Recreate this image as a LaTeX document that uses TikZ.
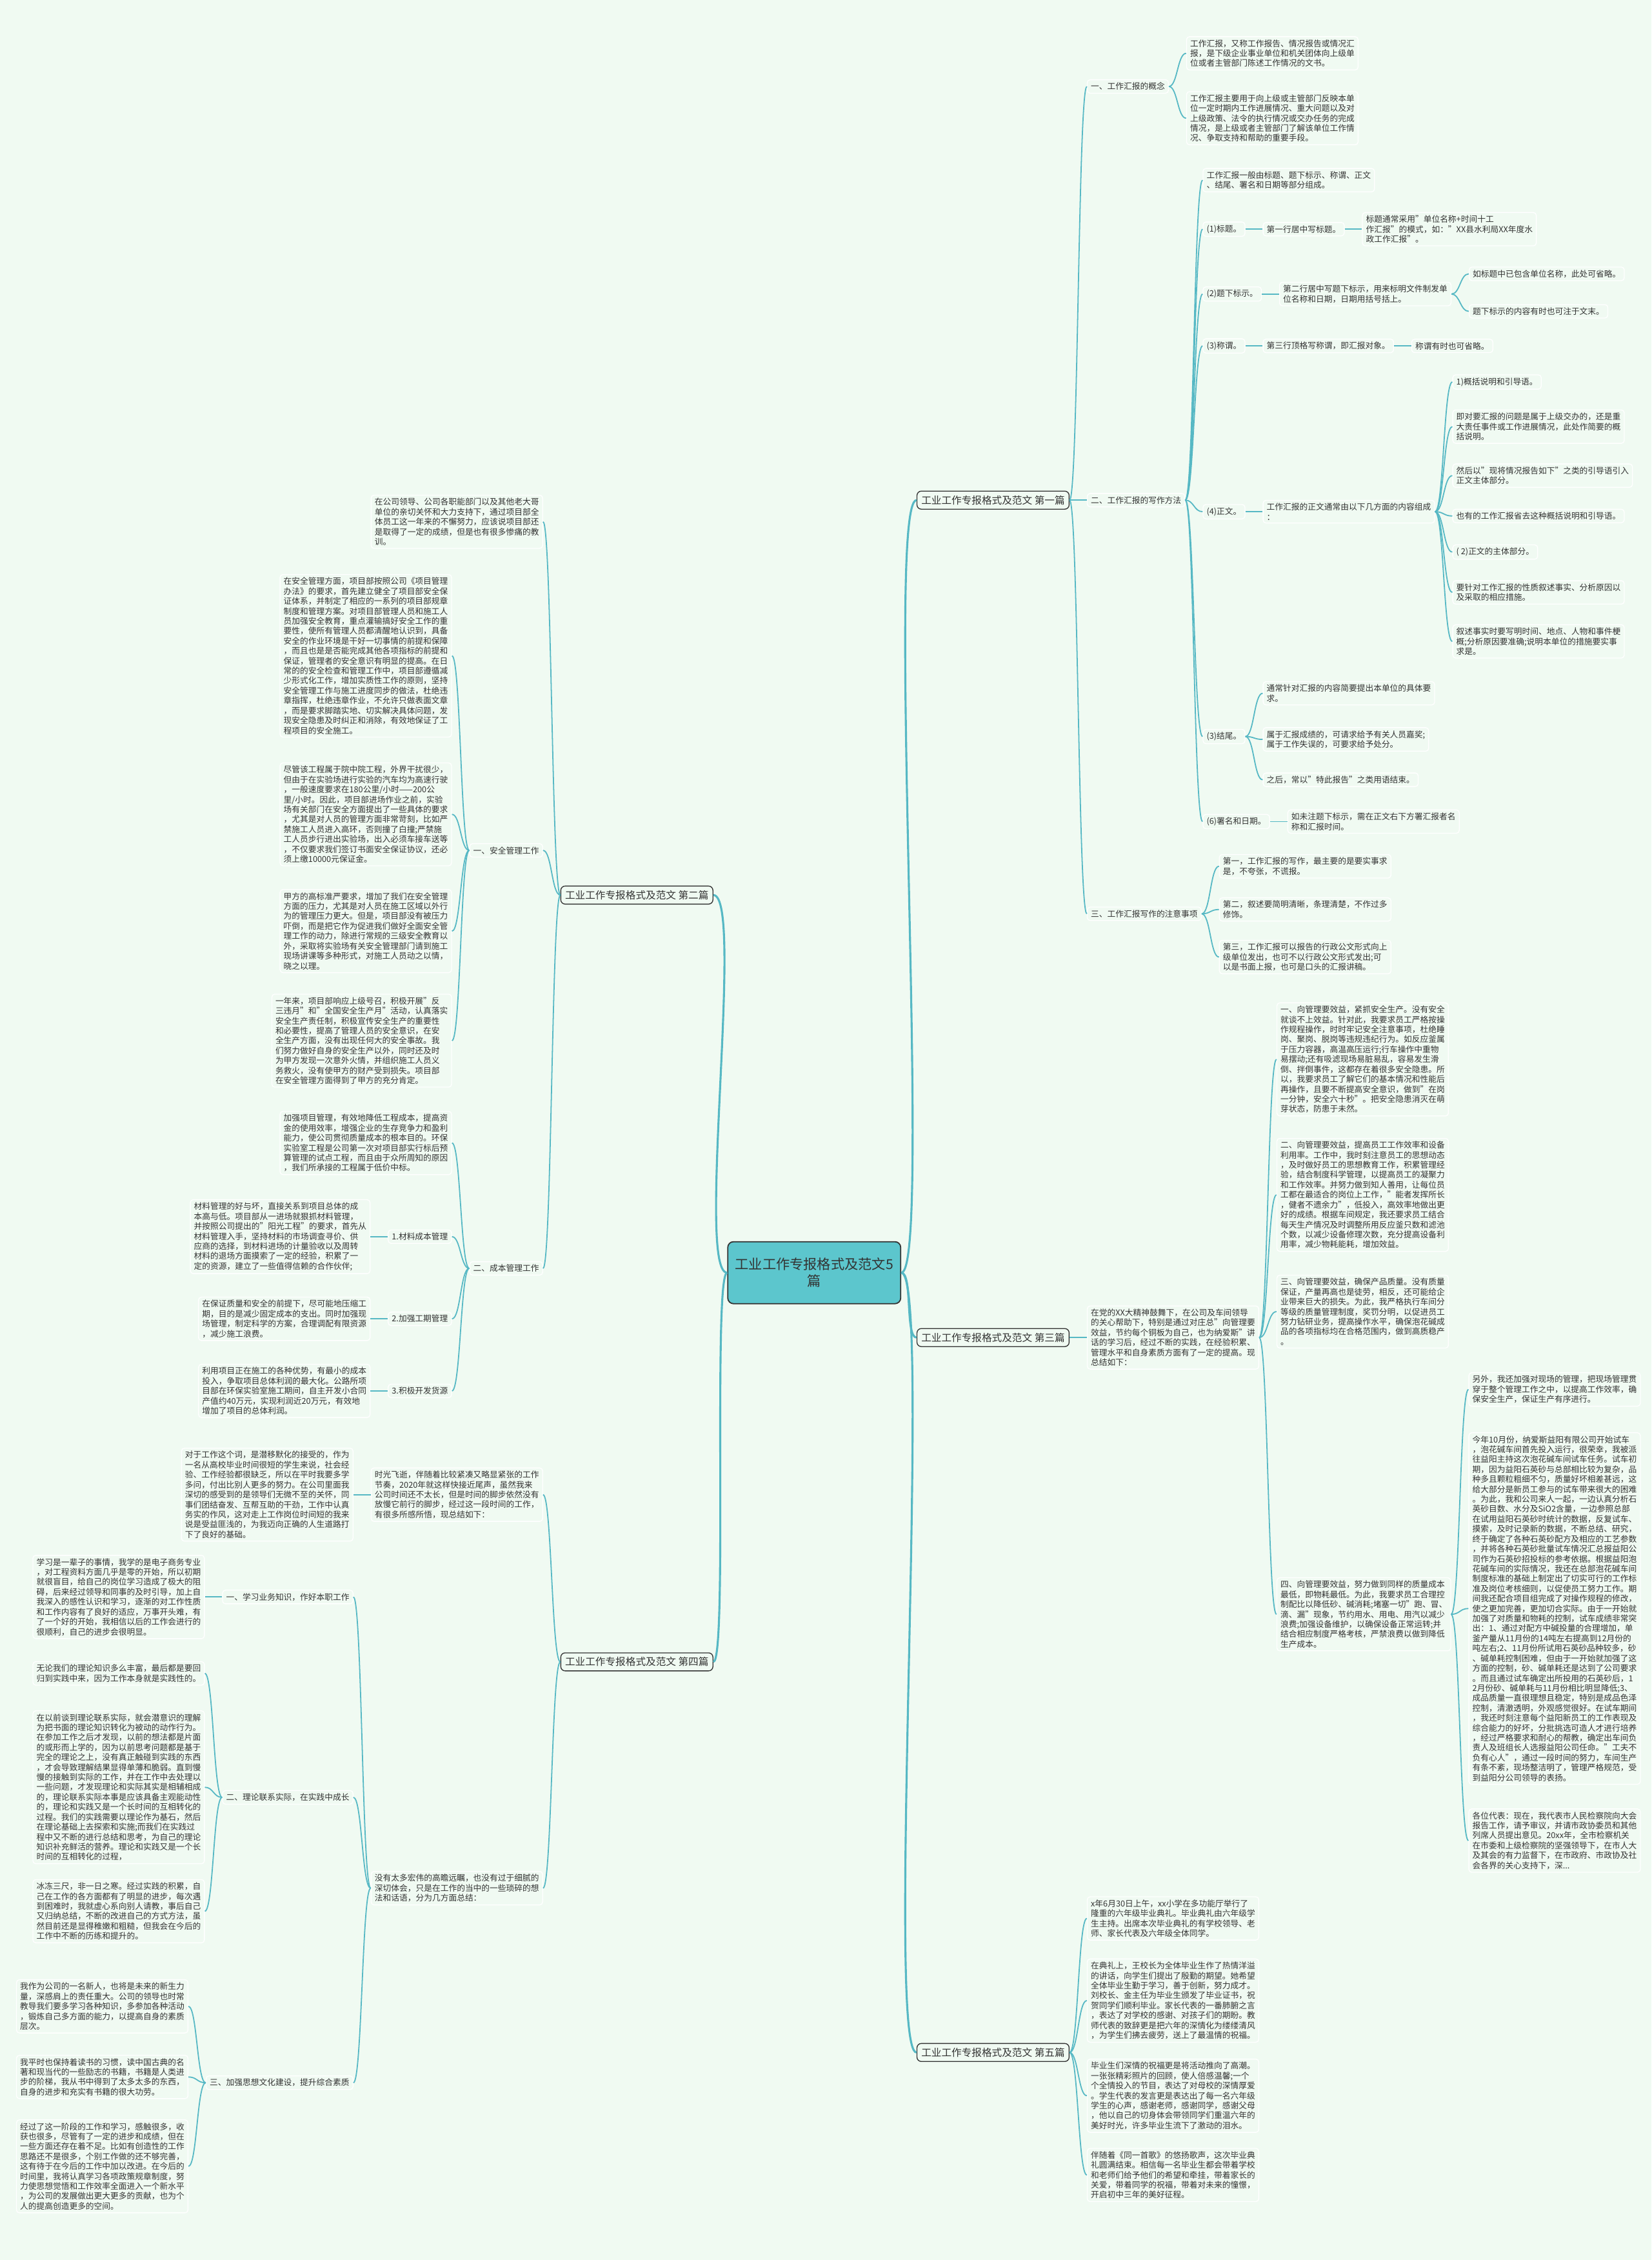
\documentclass[tikz,border=0pt]{standalone}
\usepackage{fontspec}
\setmainfont{Noto Sans CJK SC}
\usepackage{tikz}
\usetikzlibrary{positioning}
\definecolor{pagebg}{RGB}{240,250,242}
\definecolor{wireink}{RGB}{86,184,196}
\definecolor{hubfill}{RGB}{92,198,205}
\definecolor{textink}{RGB}{51,51,51}
\newcommand{\leafsize}{\fontsize{5.7}{6.9}\selectfont}

\begin{document}
\begin{tikzpicture}[x=1pt, y=-1pt,
  leaf/.style={draw=white, line width=0.6pt, rounded corners=2pt, inner xsep=2.5pt, inner ysep=2pt, align=left, text=textink, font=\leafsize},
  branchbox/.style={draw=textink, line width=0.6pt, rounded corners=3pt, fill=pagebg, inner sep=3pt, text=textink, font=\fontsize{7}{8}\selectfont},
  hub/.style={draw=textink, line width=0.8pt, rounded corners=4pt, fill=hubfill, minimum width=120pt, minimum height=43pt, align=center, text=textink, font=\fontsize{9.5}{11.5}\selectfont},
  wire/.style={draw=wireink, line width=0.8pt},
  goR/.style={to path={.. controls +(#1pt,0) and +(-#1pt,0) .. (\tikztotarget)}}, goR/.default=6,
  goL/.style={to path={.. controls +(-#1pt,0) and +(#1pt,0) .. (\tikztotarget)}}, goL/.default=6]
  \fill[pagebg] (0,0) rectangle (1146,1568);
  \useasboundingbox (0,0) rectangle (1146,1568);

  \node[hub] (hub) at (565,883) {工业工作专报格式及范文5\\篇};
  \node[branchbox, anchor=west] (b1) at (636,347) {工业工作专报格式及范文 第一篇};
  \node[branchbox, anchor=east] (b2) at (495,621) {工业工作专报格式及范文 第二篇};
  \node[branchbox, anchor=west] (b3) at (636,928) {工业工作专报格式及范文 第三篇};
  \node[branchbox, anchor=east] (b4) at (495,1153) {工业工作专报格式及范文 第四篇};
  \node[branchbox, anchor=west] (b5) at (636,1424) {工业工作专报格式及范文 第五篇};

  % first
  \node[leaf, right=12pt of b1, yshift=287pt] (n1) {一、工作汇报的概念};
  \node[leaf, right=12pt of b1] (n2) {二、工作汇报的写作方法};
  \node[leaf, right=12pt of b1, yshift=-287pt] (n3) {三、工作汇报写作的注意事项};
  \node[leaf, right=12pt of n1, yshift=23pt] (t1a) {工作汇报，又称工作报告、情况报告或情况汇\\报，是下级企业事业单位和机关团体向上级单\\位或者主管部门陈述工作情况的文书。};
  \node[leaf, right=12pt of n1, yshift=-22pt] (t1b) {工作汇报主要用于向上级或主管部门反映本单\\位一定时期内工作进展情况、重大问题以及对\\上级政策、法令的执行情况或交办任务的完成\\情况，是上级或者主管部门了解该单位工作情\\况、争取支持和帮助的重要手段。};
  \node[leaf, right=12pt of n2, yshift=222pt] (t2a) {工作汇报一般由标题、题下标示、称谓、正文\\、结尾、署名和日期等部分组成。};
  \node[leaf, right=12pt of n2, yshift=188pt] (p1) {(1)标题。};
  \node[leaf, right=12pt of n2, yshift=143pt] (p2) {(2)题下标示。};
  \node[leaf, right=12pt of n2, yshift=107pt] (p3) {(3)称谓。};
  \node[leaf, right=12pt of n2, yshift=-8pt] (p4) {(4)正文。};
  \node[leaf, right=12pt of n2, yshift=-164pt] (p5) {(3)结尾。};
  \node[leaf, right=12pt of n2, yshift=-223pt] (p6) {(6)署名和日期。};
  \node[leaf, right=12pt of p1] (p1a) {第一行居中写标题。};
  \node[leaf, right=12pt of p1a] (p1b) {标题通常采用"单位名称+时间十工\\作汇报"的模式，如："XX县水利局XX年度水\\政工作汇报"。};
  \node[leaf, right=12pt of p2] (p2a) {第二行居中写题下标示，用来标明文件制发单\\位名称和日期，日期用括号括上。};
  \node[leaf, right=12pt of p2a, yshift=14pt] (p2b) {如标题中已包含单位名称，此处可省略。};
  \node[leaf, right=12pt of p2a, yshift=-12pt] (p2c) {题下标示的内容有时也可注于文末。};
  \node[leaf, right=12pt of p3] (p3a) {第三行顶格写称谓，即汇报对象。};
  \node[leaf, right=12pt of p3a] (p3b) {称谓有时也可省略。};
  \node[leaf, right=12pt of p4] (p4a) {工作汇报的正文通常由以下几方面的内容组成\\：};
  \node[leaf, right=12pt of p4a, yshift=90pt] (z1) {1)概括说明和引导语。};
  \node[leaf, right=12pt of p4a, yshift=59pt] (z2) {即对要汇报的问题是属于上级交办的，还是重\\大责任事件或工作进展情况，此处作简要的概\\括说明。};
  \node[leaf, right=12pt of p4a, yshift=25pt] (z3) {然后以"现将情况报告如下"之类的引导语引入\\正文主体部分。};
  \node[leaf, right=12pt of p4a, yshift=-3pt] (z4) {也有的工作汇报省去这种概括说明和引导语。};
  \node[leaf, right=12pt of p4a, yshift=-28pt] (z5) {( 2)正文的主体部分。};
  \node[leaf, right=12pt of p4a, yshift=-56pt] (z6) {要针对工作汇报的性质叙述事实、分析原因以\\及采取的相应措施。};
  \node[leaf, right=12pt of p4a, yshift=-90pt] (z7) {叙述事实时要写明时间、地点、人物和事件梗\\概;分析原因要准确;说明本单位的措施要实事\\求是。};
  \node[leaf, right=12pt of p5, yshift=30pt] (p5a) {通常针对汇报的内容简要提出本单位的具体要\\求。};
  \node[leaf, right=12pt of p5, yshift=-2pt] (p5b) {属于汇报成绩的，可请求给予有关人员嘉奖;\\属于工作失误的，可要求给予处分。};
  \node[leaf, right=12pt of p5, yshift=-30pt] (p5c) {之后，常以"特此报告"之类用语结束。};
  \node[leaf, right=12pt of p6] (p6a) {如未注题下标示，需在正文右下方署汇报者名\\称和汇报时间。};
  \node[leaf, right=12pt of n3, yshift=33pt] (n3a) {第一，工作汇报的写作，最主要的是要实事求\\是，不夸张，不谎报。};
  \node[leaf, right=12pt of n3, yshift=3pt] (n3b) {第二，叙述要简明清晰，条理清楚，不作过多\\修饰。};
  \node[leaf, right=12pt of n3, yshift=-30pt] (n3c) {第三，工作汇报可以报告的行政公文形式向上\\级单位发出，也可不以行政公文形式发出;可\\以是书面上报，也可是口头的汇报讲稿。};

  % second
  \node[leaf, left=12pt of b2, yshift=259pt] (s0) {在公司领导、公司各职能部门以及其他老大哥\\单位的亲切关怀和大力支持下，通过项目部全\\体员工这一年来的不懈努力，应该说项目部还\\是取得了一定的成绩，但是也有很多惨痛的教\\训。};
  \node[leaf, left=12pt of b2, yshift=31pt] (s1) {一、安全管理工作};
  \node[leaf, left=12pt of b2, yshift=-259pt] (s2) {二、成本管理工作};
  \node[leaf, left=12pt of s1, yshift=135pt] (s1a) {在安全管理方面，项目部按照公司《项目管理\\办法》的要求，首先建立健全了项目部安全保\\证体系，并制定了相应的一系列的项目部规章\\制度和管理方案。对项目部管理人员和施工人\\员加强安全教育，重点灌输搞好安全工作的重\\要性，使所有管理人员都清醒地认识到，具备\\安全的作业环境是干好一切事情的前提和保障\\，而且也是是否能完成其他各项指标的前提和\\保证，管理者的安全意识有明显的提高。在日\\常的的安全检查和管理工作中，项目部遵循减\\少形式化工作，增加实质性工作的原则，坚持\\安全管理工作与施工进度同步的做法，杜绝违\\章指挥，杜绝违章作业，不允许只做表面文章\\，而是要求脚踏实地、切实解决具体问题，发\\现安全隐患及时纠正和消除，有效地保证了工\\程项目的安全施工。};
  \node[leaf, left=12pt of s1, yshift=25pt] (s1b) {尽管该工程属于院中院工程，外界干扰很少，\\但由于在实验场进行实验的汽车均为高速行驶\\，一般速度要求在180公里/小时——200公\\里/小时。因此，项目部进场作业之前，实验\\场有关部门在安全方面提出了一些具体的要求\\，尤其是对人员的管理方面非常苛刻，比如严\\禁施工人员进入高环，否则撞了白撞;严禁施\\工人员步行进出实验场，出入必须车接车送等\\，不仅要求我们签订书面安全保证协议，还必\\须上缴10000元保证金。};
  \node[leaf, left=12pt of s1, yshift=-56pt] (s1c) {甲方的高标准严要求，增加了我们在安全管理\\方面的压力，尤其是对人员在施工区域以外行\\为的管理压力更大。但是，项目部没有被压力\\吓倒，而是把它作为促进我们做好全面安全管\\理工作的动力，除进行常规的三级安全教育以\\外，采取将实验场有关安全管理部门请到施工\\现场讲课等多种形式，对施工人员动之以情，\\晓之以理。};
  \node[leaf, left=12pt of s1, yshift=-132pt] (s1d) {一年来，项目部响应上级号召，积极开展"反\\三违月"和"全国安全生产月"活动，认真落实\\安全生产责任制，积极宣传安全生产的重要性\\和必要性，提高了管理人员的安全意识，在安\\全生产方面，没有出现任何大的安全事故。我\\们努力做好自身的安全生产以外，同时还及时\\为甲方发现一次意外火情，并组织施工人员义\\务救火，没有使甲方的财产受到损失。项目部\\在安全管理方面得到了甲方的充分肯定。};
  \node[leaf, left=12pt of s2, yshift=87pt] (s2a) {加强项目管理，有效地降低工程成本，提高资\\金的使用效率，增强企业的生存竞争力和盈利\\能力，使公司贯彻质量成本的根本目的。环保\\实验室工程是公司第一次对项目部实行标后预\\算管理的试点工程，而且由于众所周知的原因\\，我们所承接的工程属于低价中标。};
  \node[leaf, left=12pt of s2, yshift=22pt] (m1) {1.材料成本管理};
  \node[leaf, left=12pt of s2, yshift=-35pt] (m2) {2.加强工期管理};
  \node[leaf, left=12pt of s2, yshift=-85pt] (m3) {3.积极开发货源};
  \node[leaf, left=12pt of m1] (m1a) {材料管理的好与坏，直接关系到项目总体的成\\本高与低。项目部从一进场就狠抓材料管理，\\并按照公司提出的"阳光工程"的要求，首先从\\材料管理入手，坚持材料的市场调查寻价、供\\应商的选择，到材料进场的计量验收以及周转\\材料的退场方面摸索了一定的经验，积累了一\\定的资源，建立了一些值得信赖的合作伙伴;};
  \node[leaf, left=12pt of m2] (m2a) {在保证质量和安全的前提下，尽可能地压缩工\\期，目的是减少固定成本的支出。同时加强现\\场管理，制定科学的方案，合理调配有限资源\\，减少施工浪费。};
  \node[leaf, left=12pt of m3] (m3a) {利用项目正在施工的各种优势，有最小的成本\\投入，争取项目总体利润的最大化。公路所项\\目部在环保实验室施工期间，自主开发小合同\\产值约40万元，实现利润近20万元，有效地\\增加了项目的总体利润。};

  % third
  \node[leaf, right=12pt of b3] (d0) {在党的XX大精神鼓舞下，在公司及车间领导\\的关心帮助下，特别是通过对庄总"向管理要\\效益，节约每个铜板为自己，也为纳爱斯"讲\\话的学习后，经过不断的实践，在经验积累、\\管理水平和自身素质方面有了一定的提高。现\\总结如下：};
  \node[leaf, right=12pt of d0, yshift=193pt] (d1) {一、向管理要效益，紧抓安全生产。没有安全\\就谈不上效益。针对此，我要求员工严格按操\\作规程操作，时时牢记安全注意事项，杜绝睡\\岗、聚岗、脱岗等违规违纪行为。如反应釜属\\于压力容器，高温高压运行;行车操作中重物\\易摆动;还有吸滤现场易脏易乱，容易发生滑\\倒、拌倒事件，这都存在着很多安全隐患。所\\以，我要求员工了解它们的基本情况和性能后\\再操作，且要不断提高安全意识，做到"在岗\\一分钟，安全六十秒"。把安全隐患消灭在萌\\芽状态，防患于未然。};
  \node[leaf, right=12pt of d0, yshift=99pt] (d2) {二、向管理要效益，提高员工工作效率和设备\\利用率。工作中，我时刻注意员工的思想动态\\，及时做好员工的思想教育工作，积累管理经\\验，结合制度科学管理，以提高员工的凝聚力\\和工作效率。并努力做到知人善用，让每位员\\工都在最适合的岗位上工作，"能者发挥所长\\，健者不遗余力"，低投入，高效率地做出更\\好的成绩。根据车间规定，我还要求员工结合\\每天生产情况及时调整所用反应釜只数和滤池\\个数，以减少设备修理次数，充分提高设备利\\用率，减少物耗能耗，增加效益。};
  \node[leaf, right=12pt of d0, yshift=18pt] (d3) {三、向管理要效益，确保产品质量。没有质量\\保证，产量再高也是徒劳，相反，还可能给企\\业带来巨大的损失。为此，我严格执行车间分\\等级的质量管理制度，奖罚分明，以促进员工\\努力钻研业务，提高操作水平，确保泡花碱成\\品的各项指标均在合格范围内，做到高质稳产\\。};
  \node[leaf, right=12pt of d0, yshift=-192pt] (d4) {四、向管理要效益，努力做到同样的质量成本\\最低，即物耗最低。为此，我要求员工合理控\\制配比以降低砂、碱消耗;堵塞一切"跑、冒、\\滴、漏"现象，节约用水、用电、用汽以减少\\浪费;加强设备维护，以确保设备正常运转;并\\结合相应制度严格考核，严禁浪费以做到降低\\生产成本。};
  \node[leaf, right=12pt of d4, yshift=156pt] (e1) {另外，我还加强对现场的管理，把现场管理贯\\穿于整个管理工作之中，以提高工作效率，确\\保安全生产，保证生产有序进行。};
  \node[leaf, right=12pt of d4, yshift=4pt] (e2) {今年10月份，纳爱斯益阳有限公司开始试车\\，泡花碱车间首先投入运行，很荣幸，我被派\\往益阳主持这次泡花碱车间试车任务。试车初\\期，因为益阳石英砂与总部相比较为复杂，品\\种多且颗粒粗细不匀，质量好坏相差甚远，这\\给大部分是新员工参与的试车带来很大的困难\\。为此，我和公司来人一起，一边认真分析石\\英砂目数、水分及SiO2含量，一边参照总部\\在试用益阳石英砂时统计的数据，反复试车、\\摸索，及时记录新的数据，不断总结、研究，\\终于确定了各种石英砂配方及相应的工艺参数\\，并将各种石英砂批量试车情况汇总报益阳公\\司作为石英砂招投标的参考依据。根据益阳泡\\花碱车间的实际情况，我还在总部泡花碱车间\\制度标准的基础上制定出了切实可行的工作标\\准及岗位考核细则，以促使员工努力工作。期\\间我还配合项目组完成了对操作规程的修改，\\使之更加完善，更加切合实际。由于一开始就\\加强了对质量和物耗的控制，试车成绩非常突\\出：1、通过对配方中碱投量的合理增加，单\\釜产量从11月份的14吨左右提高到12月份的\\吨左右;2、11月份所试用石英砂品种较多，砂\\、碱单耗控制困难，但由于一开始就加强了这\\方面的控制，砂、碱单耗还是达到了公司要求\\。而且通过试车确定出所投用的石英砂后，1\\2月份砂、碱单耗与11月份相比明显降低;3、\\成品质量一直很理想且稳定，特别是成品色泽\\控制，清澈透明，外观感觉很好。在试车期间\\，我还时刻注意每个益阳新员工的工作表现及\\综合能力的好坏，分批挑选可造人才进行培养\\，经过严格要求和耐心的帮教，确定出车间负\\责人及班组长人选报益阳公司任命。"工夫不\\负有心人"，通过一段时间的努力，车间生产\\有条不紊，现场整洁明了，管理严格规范，受\\到益阳分公司领导的表扬。};
  \node[leaf, right=12pt of d4, yshift=-157pt] (e3) {各位代表：现在，我代表市人民检察院向大会\\报告工作，请予审议，并请市政协委员和其他\\列席人员提出意见。20xx年，全市检察机关\\在市委和上级检察院的坚强领导下，在市人大\\及其会的有力监督下，在市政府、市政协及社\\会各界的关心支持下，深...};

  % fourth
  \node[leaf, left=12pt of b4, yshift=116pt] (g0) {时光飞逝，伴随着比较紧凑又略显紧张的工作\\节奏，2020年就这样快接近尾声，虽然我来\\公司时间还不太长，但是时间的脚步依然没有\\放慢它前行的脚步，经过这一段时间的工作，\\有很多所感所悟，现总结如下：};
  \node[leaf, left=12pt of g0] (g0a) {对于工作这个词，是潜移默化的接受的，作为\\一名从高校毕业时间很短的学生来说，社会经\\验、工作经验都很缺乏，所以在平时我要多学\\多问，付出比别人更多的努力。在公司里面我\\深切的感受到的是领导们无微不至的关怀，同\\事们团结奋发、互帮互助的干劲，工作中认真\\务实的作风，这对走上工作岗位时间短的我来\\说是受益匪浅的，为我迈向正确的人生道路打\\下了良好的基础。};
  \node[leaf, left=12pt of b4, yshift=-157pt] (g1) {没有太多宏伟的高瞻远瞩，也没有过于细腻的\\深切体会，只是在工作的当中的一些琐碎的想\\法和话语，分为几方面总结：};
  \node[leaf, left=12pt of g1, yshift=202pt] (h1) {一、学习业务知识，作好本职工作};
  \node[leaf, left=12pt of g1, yshift=63pt] (h2) {二、理论联系实际，在实践中成长};
  \node[leaf, left=12pt of g1, yshift=-135pt] (h3) {三、加强思想文化建设，提升综合素质};
  \node[leaf, left=12pt of h1] (h1a) {学习是一辈子的事情，我学的是电子商务专业\\，对工程资料方面几乎是零的开始，所以初期\\就很盲目，给自己的岗位学习造成了极大的阻\\碍，后来经过领导和同事的及时引导，加上自\\我深入的感性认识和学习，逐渐的对工作性质\\和工作内容有了良好的适应，万事开头难，有\\了一个好的开始，我相信以后的工作会进行的\\很顺利，自己的进步会很明显。};
  \node[leaf, left=12pt of h2, yshift=86pt] (h2a) {无论我们的理论知识多么丰富，最后都是要回\\归到实践中来，因为工作本身就是实践性的。};
  \node[leaf, left=12pt of h2, yshift=7pt] (h2b) {在以前谈到理论联系实际，就会潜意识的理解\\为把书面的理论知识转化为被动的动作行为。\\在参加工作之后才发现，以前的想法都是片面\\的或形而上学的，因为以前思考问题都是基于\\完全的理论之上，没有真正触碰到实践的东西\\，才会导致理解结果显得单薄和脆弱。直到慢\\慢的接触到实际的工作，并在工作中去处理以\\一些问题，才发现理论和实际其实是相辅相成\\的，理论联系实际本事是应该具备主观能动性\\的，理论和实践又是一个长时间的互相转化的\\过程。我们的实践需要以理论作为基石，然后\\在理论基础上去探索和实施;而我们在实践过\\程中又不断的进行总结和思考，为自己的理论\\知识补充鲜活的营养。理论和实践又是一个长\\时间的互相转化的过程，};
  \node[leaf, left=12pt of h2, yshift=-79pt] (h2c) {冰冻三尺，非一日之寒。经过实践的积累，自\\己在工作的各方面都有了明显的进步，每次遇\\到困难时，我就虚心系向别人请教，事后自己\\又归纳总结，不断的改进自己的方式方法，虽\\然目前还是显得稚嫩和粗糙，但我会在今后的\\工作中不断的历练和提升的。};
  \node[leaf, left=12pt of h3, yshift=53pt] (h3a) {我作为公司的一名新人，也将是未来的新生力\\量，深感肩上的责任重大。公司的领导也时常\\教导我们要多学习各种知识，多参加各种活动\\，锻炼自己多方面的能力，以提高自身的素质\\层次。};
  \node[leaf, left=12pt of h3, yshift=4pt] (h3b) {我平时也保持着读书的习惯，读中国古典的名\\著和现当代的一些励志的书籍，书籍是人类进\\步的阶梯，我从书中得到了太多太多的东西，\\自身的进步和充实有书籍的很大功劳。};
  \node[leaf, left=12pt of h3, yshift=-58pt] (h3c) {经过了这一阶段的工作和学习，感触很多，收\\获也很多，尽管有了一定的进步和成绩，但在\\一些方面还存在着不足。比如有创造性的工作\\思路还不是很多，个别工作做的还不够完善，\\这有待于在今后的工作中加以改进。在今后的\\时间里，我将认真学习各项政策规章制度，努\\力使思想觉悟和工作效率全面进入一个新水平\\，为公司的发展做出更大更多的贡献，也为个\\人的提高创造更多的空间。};

  % fifth
  \node[leaf, right=12pt of b5, yshift=93pt] (f1) {x年6月30日上午，xx小学在多功能厅举行了\\隆重的六年级毕业典礼。毕业典礼由六年级学\\生主持。出席本次毕业典礼的有学校领导、老\\师、家长代表及六年级全体同学。};
  \node[leaf, right=12pt of b5, yshift=36pt] (f2) {在典礼上，王校长为全体毕业生作了热情洋溢\\的讲话，向学生们提出了殷勤的期望。她希望\\全体毕业生勤于学习，善于创新，努力成才。\\刘校长、金主任为毕业生颁发了毕业证书，祝\\贺同学们顺利毕业。家长代表的一番肺腑之言\\，表达了对学校的感谢、对孩子们的期盼。教\\师代表的致辞更是把六年的深情化为缕缕清风\\，为学生们拂去疲劳，送上了最温情的祝福。};
  \node[leaf, right=12pt of b5, yshift=-30pt] (f3) {毕业生们深情的祝福更是将活动推向了高潮。\\一张张精彩照片的回顾，使人倍感温馨;一个\\个全情投入的节目，表达了对母校的深情厚爱\\。学生代表的发言更是表达出了每一名六年级\\学生的心声，感谢老师，感谢同学，感谢父母\\，他以自己的切身体会带领同学们重温六年的\\美好时光，许多毕业生流下了激动的泪水。};
  \node[leaf, right=12pt of b5, yshift=-85pt] (f4) {伴随着《同一首歌》的悠扬歌声，这次毕业典\\礼圆满结束。相信每一名毕业生都会带着学校\\和老师们给予他们的希望和牵挂，带着家长的\\关爱，带着同学的祝福，带着对未来的憧憬，\\开启初中三年的美好征程。};

  % links
  \draw[wire, line width=1.4pt] (hub.east) to[goR=22] (b1.west);
  \draw[wire, line width=1.4pt] (hub.east) to[goR=8] (b3.west);
  \draw[wire, line width=1.4pt] (hub.east) to[goR=22] (b5.west);
  \draw[wire, line width=1.4pt] (hub.west) to[goL=22] (b2.east);
  \draw[wire, line width=1.4pt] (hub.west) to[goL=10] (b4.east);
  \foreach \a/\b in {b1/n1, b1/n2, b1/n3, n1/t1a, n1/t1b, n2/t2a, n2/p1, n2/p2, n2/p3, n2/p4, n2/p5, n2/p6,
      p1/p1a, p1a/p1b, p2/p2a, p2a/p2b, p2a/p2c, p3/p3a, p3a/p3b, p4/p4a,
      p4a/z1, p4a/z2, p4a/z3, p4a/z4, p4a/z5, p4a/z6, p4a/z7, p5/p5a, p5/p5b, p5/p5c, p6/p6a,
      n3/n3a, n3/n3b, n3/n3c, b3/d0, d0/d1, d0/d2, d0/d3, d0/d4, d4/e1, d4/e2, d4/e3,
      b5/f1, b5/f2, b5/f3, b5/f4}
    \draw[wire] (\a.east) to[goR] (\b.west);
  \foreach \a/\b in {b2/s0, b2/s1, b2/s2, s1/s1a, s1/s1b, s1/s1c, s1/s1d, s2/s2a, s2/m1, s2/m2, s2/m3,
      m1/m1a, m2/m2a, m3/m3a, b4/g0, b4/g1, g0/g0a, g1/h1, g1/h2, g1/h3, h1/h1a,
      h2/h2a, h2/h2b, h2/h2c, h3/h3a, h3/h3b, h3/h3c}
    \draw[wire] (\a.west) to[goL] (\b.east);
\end{tikzpicture}
\end{document}
